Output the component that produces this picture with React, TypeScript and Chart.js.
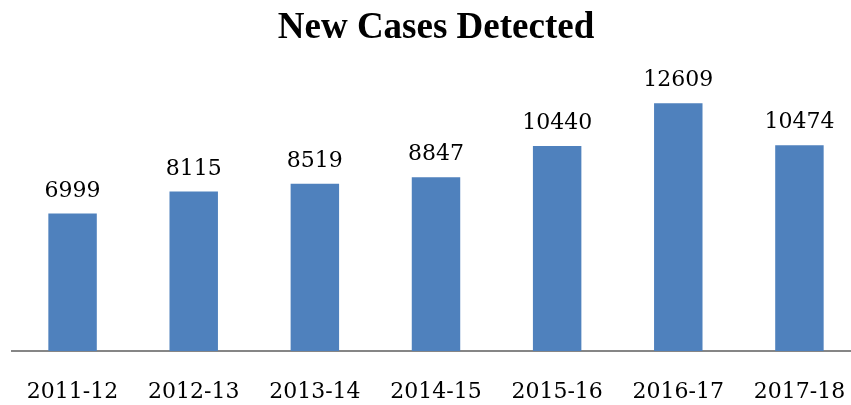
import React, { useEffect, useRef } from "react";
import { Chart, registerables } from "chart.js";

Chart.register(...registerables);

const categories = ["2011-12", "2012-13", "2013-14", "2014-15", "2015-16", "2016-17", "2017-18"];
const newCases = [6999, 8115, 8519, 8847, 10440, 12609, 10474];
const titleText = "New Cases Detected";

const labelPlugin = {
  id: "barValueLabels",
  afterDatasetsDraw(chart: any) {
    const ctx = chart.ctx;
    const meta = chart.getDatasetMeta(0);
    ctx.save();
    ctx.font = "22px 'DejaVu Serif'";
    ctx.fillStyle = "#000000";
    ctx.textAlign = "center";
    ctx.textBaseline = "alphabetic";
    meta.data.forEach((bar: any, i: number) => {
      const v = chart.data.datasets[0].data[i];
      ctx.fillText(String(v), bar.x, bar.y - 17);
    });
    ctx.restore();
  },
};

export default function App() {
  const ref = useRef<HTMLCanvasElement | null>(null);
  useEffect(() => {
    document.body.style.overflow = "hidden";
    const canvas = ref.current!;
    const chart = new Chart(canvas, {
      type: "bar",
      data: {
        labels: categories,
        datasets: [
          {
            data: newCases,
            backgroundColor: "#4F81BD",
            borderWidth: 0,
            barPercentage: 0.4,
            categoryPercentage: 1,
          },
        ],
      },
      options: {
        animation: false,
        responsive: false,
        devicePixelRatio: 1,
        layout: { padding: { left: 12, right: 0, top: 0, bottom: 0 } },
        plugins: {
          legend: { display: false },
          tooltip: { enabled: false },
          title: {
            display: true,
            text: titleText,
            color: "#000000",
            font: { family: "'Liberation Serif'", size: 37, weight: "bold" },
            padding: { top: 6, bottom: 25.6 },
          },
        },
        scales: {
          x: {
            grid: { display: false, drawTicks: false },
            border: { display: true, color: "#868686", width: 2 },
            ticks: {
              color: "#000000",
              font: { family: "'DejaVu Serif'", size: 22, lineHeight: "82px" },
              padding: 0,
              maxRotation: 0,
              autoSkip: false,
            },
            afterFit: (scale: any) => {
              scale.height = 54;
            },
          },
          y: {
            display: false,
            min: 0,
            max: 14000,
          },
        },
      },
      plugins: [labelPlugin],
    });
    return () => chart.destroy();
  }, []);
  return (
    <div style={{ position: "absolute", left: 0, top: 0, width: 851, height: 405, overflow: "hidden" }}>
      <div style={{ position: "relative", width: 860, height: 405 }}>
        <canvas ref={ref} width={860} height={405} style={{ width: 860, height: 405, display: "block" }} />
      </div>
    </div>
  );
}
